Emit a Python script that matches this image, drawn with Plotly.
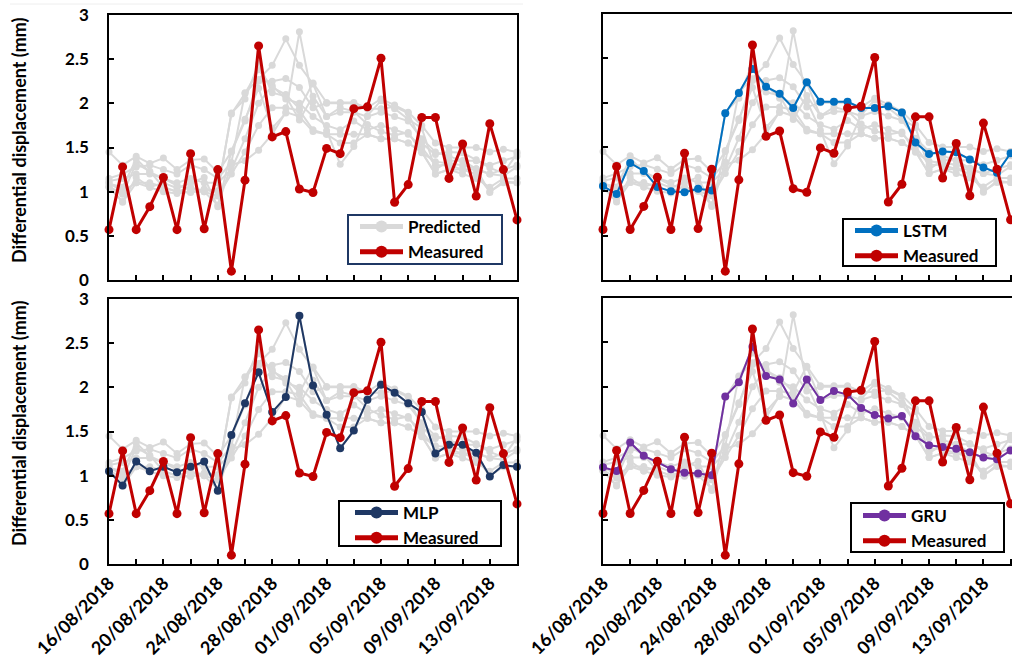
import pandas as pd
import plotly.graph_objects as go

# ---------------- data ----------------
dates = pd.date_range("2018-08-16", periods=31, freq="D")

measured = [0.57, 1.28, 0.57, 0.83, 1.16, 0.57, 1.43, 0.58, 1.25, 0.10,
            1.13, 2.65, 1.62, 1.68, 1.03, 0.99, 1.49, 1.43, 1.94, 1.96,
            2.51, 0.88, 1.08, 1.84, 1.84, 1.15, 1.54, 0.95, 1.77, 1.25, 0.68]

mlp = [1.05, 0.89, 1.16, 1.05, 1.10, 1.04, 1.10, 1.16, 0.83, 1.46,
       1.82, 2.17, 1.72, 1.89, 2.81, 2.02, 1.69, 1.31, 1.51, 1.86,
       2.03, 1.94, 1.82, 1.72, 1.25, 1.35, 1.35, 1.26, 0.99, 1.12, 1.10]

lstm = [1.06, 0.97, 1.32, 1.23, 1.05, 1.00, 0.99, 1.03, 1.01, 1.88,
        2.11, 2.38, 2.18, 2.10, 1.94, 2.23, 2.01, 2.01, 2.01, 1.94,
        1.94, 1.96, 1.89, 1.55, 1.42, 1.45, 1.44, 1.36, 1.27, 1.21, 1.43]

gru = [1.09, 1.05, 1.37, 1.22, 1.15, 1.07, 1.03, 1.02, 1.00, 1.89,
       2.05, 2.45, 2.12, 2.08, 1.81, 2.08, 1.85, 1.95, 1.91, 1.76,
       1.68, 1.64, 1.67, 1.44, 1.34, 1.32, 1.30, 1.26, 1.20, 1.18, 1.28]

model_a = [1.45, 1.30, 1.40, 1.32, 1.38, 1.25, 1.36, 1.37, 1.22, 1.45,
           1.80, 2.25, 2.25, 2.28, 2.18, 1.95, 2.00, 2.00, 2.00, 1.95,
           2.05, 1.98, 1.90, 1.75, 1.55, 1.50, 1.50, 1.50, 1.45, 1.48, 1.45]

model_b = [1.15, 1.20, 1.28, 1.30, 1.25, 1.20, 1.30, 1.25, 1.15, 1.33,
           2.12, 2.27, 2.43, 2.73, 2.43, 2.22, 1.85, 1.90, 1.90, 1.85,
           1.90, 1.85, 1.80, 1.60, 1.45, 1.40, 1.35, 1.35, 1.30, 1.35, 1.40]

model_c = [1.12, 1.15, 1.20, 1.20, 1.15, 1.10, 1.15, 1.10, 1.10, 1.25,
           1.60, 2.00, 2.20, 2.05, 2.00, 1.85, 1.75, 1.70, 1.80, 1.70,
           1.75, 1.70, 1.65, 1.50, 1.30, 1.30, 1.25, 1.25, 1.20, 1.25, 1.30]

model_d = [1.10, 1.00, 1.10, 1.10, 1.05, 1.00, 1.05, 1.00, 0.95, 1.20,
           1.45, 1.75, 1.95, 1.95, 1.92, 1.70, 1.65, 1.65, 1.65, 1.65,
           1.60, 1.60, 1.55, 1.45, 1.20, 1.25, 1.20, 1.15, 1.05, 1.15, 1.15]

model_e = [1.05, 0.88, 1.10, 1.05, 1.00, 0.98, 1.00, 1.00, 0.85, 1.30,
           1.35, 1.47, 1.65, 1.90, 1.85, 1.68, 1.65, 1.55, 1.55, 1.65,
           1.60, 1.60, 1.55, 1.45, 1.20, 1.25, 1.25, 1.20, 1.00, 1.10, 1.10]

predicted_all = [model_a, model_b, model_c, model_d, model_e, mlp, lstm, gru]

y_ticks = [0, 0.5, 1, 1.5, 2, 2.5, 3]
y_tick_labels = ["0", "0.5", "1", "1.5", "2", "2.5", "3"]
x_tickvals = list(dates[::2])
x_ticktext = [d.strftime("%d/%m/%Y") if i % 2 == 0 else "" for i, d in enumerate(x_tickvals)]

# ---------------- styling ----------------
W, H = 1012, 663
FONT = "Lato"
RED = "#C00000"
GRAY = "#D9D9D9"


def px(x):
    return x / W


def py(y):
    return 1 - y / H


panels = [
    dict(sfx="", xd=(109, 517), yd=(15, 280), name=None, data=None, color=None,
         leg="legend", legborder="#1F3864", box=(348, 215, 502, 264), legxy=(355, 209),
         ylab=True, xlab=False),
    dict(sfx="2", xd=(603, 1012), yd=(14, 280), name="LSTM", data=lstm, color="#0070C0",
         leg="legend2", legborder="#000000", box=(843, 219, 996, 266), legxy=(850, 213),
         ylab=False, xlab=False),
    dict(sfx="3", xd=(109, 517), yd=(299, 564), name="MLP", data=mlp, color="#1F3864",
         leg="legend3", legborder="#000000", box=(339, 501, 501, 546), legxy=(350, 495),
         ylab=True, xlab=True),
    dict(sfx="4", xd=(603, 1012), yd=(298, 564), name="GRU", data=gru, color="#7030A0",
         leg="legend4", legborder="#000000", box=(851, 503, 1004, 552), legxy=(858, 498),
         ylab=False, xlab=True),
]

fig = go.Figure()
layout = dict(
    width=W, height=H, margin=dict(l=0, r=0, t=0, b=0, autoexpand=False),
    paper_bgcolor="white", plot_bgcolor="white",
    font=dict(family=FONT, color="black"),
    showlegend=True,
)
shapes = []

for p in panels:
    xa = "x" + p["sfx"]
    ya = "y" + p["sfx"]
    first = True
    for series in predicted_all:
        fig.add_trace(go.Scatter(
            x=dates, y=series, xaxis=xa, yaxis=ya, mode="lines+markers",
            name="Predicted", legend=p["leg"],
            showlegend=(p["name"] is None and first),
            line=dict(color=GRAY, width=2), marker=dict(color=GRAY, size=7),
            cliponaxis=False,
        ))
        first = False
    if p["data"] is not None:
        fig.add_trace(go.Scatter(
            x=dates, y=p["data"], xaxis=xa, yaxis=ya, mode="lines+markers",
            name=p["name"], legend=p["leg"],
            line=dict(color=p["color"], width=2), marker=dict(color=p["color"], size=8),
            cliponaxis=False,
        ))
    fig.add_trace(go.Scatter(
        x=dates, y=measured, xaxis=xa, yaxis=ya, mode="lines+markers",
        name="Measured", legend=p["leg"],
        line=dict(color=RED, width=3), marker=dict(color=RED, size=9),
        cliponaxis=False,
    ))

    right = p["xd"][1] >= W
    xend = "2018-09-15 02:30" if right else "2018-09-15"
    layout["xaxis" + p["sfx"]] = dict(
        domain=[px(p["xd"][0]), px(p["xd"][1])], anchor=ya, automargin=False,
        type="date", range=["2018-08-16", xend],
        tickmode="array", tickvals=x_tickvals, ticktext=x_ticktext,
        ticks="inside", ticklen=5, tickwidth=1.5, tickcolor="black",
        showticklabels=p["xlab"], tickangle=-45,
        tickfont=dict(family=FONT, size=18, color="black", weight="bold"),
        showline=True, linecolor="black", linewidth=1.5, mirror=True,
        showgrid=False, zeroline=False,
    )
    layout["yaxis" + p["sfx"]] = dict(
        domain=[py(p["yd"][1]), py(p["yd"][0])], anchor=xa, automargin=False,
        range=[0, 3], tickmode="array", tickvals=y_ticks, ticktext=y_tick_labels,
        ticks="inside", ticklen=5, tickwidth=1.5, tickcolor="black",
        showticklabels=p["ylab"], ticklabelstandoff=15,
        tickfont=dict(family=FONT, size=17, color="black", weight="bold"),
        showline=True, linecolor="black", linewidth=1.5,
        mirror=(not right), showgrid=False, zeroline=False,
    )
    x0, y0, x1, y1 = p["box"]
    shapes.append(dict(type="rect", xref="paper", yref="paper", layer="above",
                       x0=px(x0), x1=px(x1), y0=py(y1), y1=py(y0),
                       fillcolor="white", line=dict(color=p["legborder"], width=2)))
    lx, ly = p["legxy"]
    layout[p["leg"]] = dict(
        x=px(lx), y=py(ly), xanchor="left", yanchor="top",
        bgcolor="rgba(0,0,0,0)", borderwidth=0, itemwidth=43,
        font=dict(family=FONT, size=17, color="black", weight="bold"),
        tracegroupgap=0, itemsizing="constant",
    )

shapes.append(dict(type="line", xref="paper", yref="paper", x0=px(10), x1=px(523),
                   y0=py(4), y1=py(4), line=dict(color="#EEEEEE", width=1)))
layout["shapes"] = shapes
fig.update_layout(**layout)

for yc in (140, 423):
    fig.add_annotation(
        text="Differential displacement (mm)", xref="paper", yref="paper",
        x=px(19), y=py(yc), xanchor="center", yanchor="middle", textangle=-90,
        showarrow=False, font=dict(family=FONT, size=18, color="black", weight="bold"),
    )

fig.write_html("out.html")
